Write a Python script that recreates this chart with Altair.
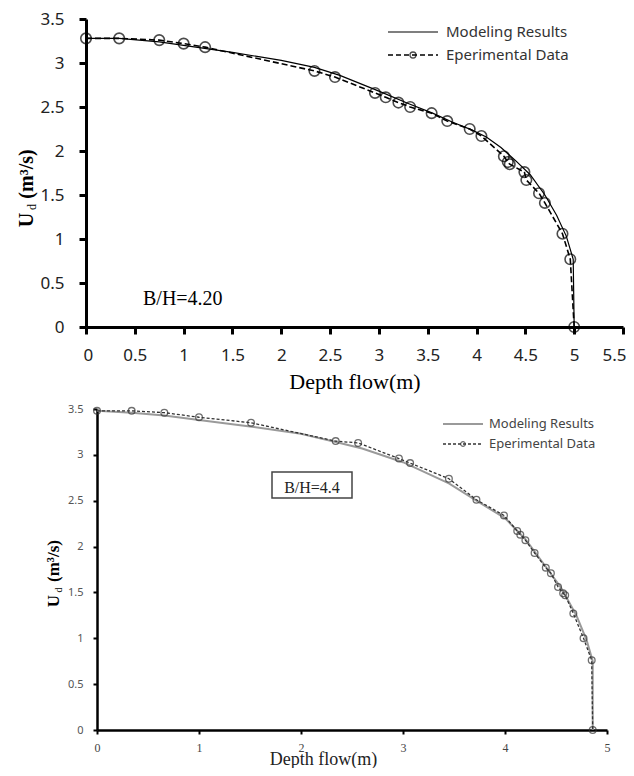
import altair as alt
import pandas as pd

# ---------------- data ----------------
# Top panel, B/H = 4.20
top_exp_x = [0.0, 0.34, 0.75, 1.0, 1.22, 2.34, 2.55, 2.96, 3.07, 3.2, 3.32, 3.54, 3.7,
             3.93, 4.05, 4.28, 4.32, 4.34, 4.49, 4.51, 4.64, 4.7, 4.88, 4.96, 5.0]
top_exp_y = [3.28, 3.28, 3.26, 3.22, 3.18, 2.91, 2.84, 2.66, 2.61, 2.55, 2.5, 2.43, 2.34,
             2.25, 2.17, 1.94, 1.875, 1.85, 1.76, 1.67, 1.52, 1.41, 1.06, 0.77, 0.0]
top_mod_x = [0.0, 0.34, 0.75, 1.0, 1.5, 2.0, 2.34, 2.6, 3.0, 3.3, 3.55, 3.75, 3.95, 4.1,
             4.25, 4.4, 4.55, 4.7, 4.82, 4.92, 4.99, 5.0]
top_mod_y = [3.28, 3.28, 3.24, 3.2, 3.12, 3.03, 2.95, 2.86, 2.68, 2.54, 2.43, 2.33, 2.24,
             2.16, 2.04, 1.89, 1.73, 1.50, 1.27, 1.03, 0.77, 0.0]
top_x_ticks = [0, 0.5, 1, 1.5, 2, 2.5, 3, 3.5, 4, 4.5, 5, 5.5]
top_y_ticks = [0, 0.5, 1, 1.5, 2, 2.5, 3, 3.5]

# Bottom panel, B/H = 4.4
bot_exp_x = [0.0, 0.34, 0.66, 1.0, 1.51, 2.34, 2.56, 2.96, 3.07, 3.45, 3.72, 3.99, 4.12,
             4.15, 4.2, 4.29, 4.4, 4.45, 4.52, 4.57, 4.59, 4.67, 4.77, 4.85, 4.86]
bot_exp_y = [3.48, 3.48, 3.46, 3.41, 3.35, 3.15, 3.13, 2.96, 2.91, 2.74, 2.51, 2.34, 2.17,
             2.13, 2.07, 1.93, 1.77, 1.71, 1.56, 1.49, 1.47, 1.27, 1.0, 0.76, 0.0]
bot_mod_x = [0.0, 0.34, 0.66, 1.0, 1.5, 2.0, 2.34, 2.6, 3.0, 3.45, 3.72, 4.0, 4.2, 4.4,
             4.55, 4.7, 4.8, 4.86, 4.86]
bot_mod_y = [3.48, 3.46, 3.43, 3.38, 3.31, 3.23, 3.14, 3.07, 2.92, 2.69, 2.5, 2.31, 2.08,
             1.78, 1.55, 1.25, 0.98, 0.75, 0.0]
bot_x_ticks = [0, 1, 2, 3, 4, 5]
bot_y_ticks = [0, 0.5, 1, 1.5, 2, 2.5, 3, 3.5]

legend_labels = ["Modeling Results", "Eperimental Data"]
x_title = "Depth flow(m)"

SERIF = "Liberation Serif"
SANS = "Noto Sans"
FMT = ".1~f"


def series_df(xs, ys):
    return pd.DataFrame({"x": xs, "y": ys, "i": list(range(len(xs)))})


def one():
    return pd.DataFrame({"a": [0]})


def txt(text, x, y, size, font, color="black", weight="normal", angle=0,
        align="left", baseline="alphabetic"):
    return alt.Chart(one()).mark_text(
        text=text, fontSize=size, font=font, color=color, fontWeight=weight,
        angle=angle, align=align, baseline=baseline
    ).encode(x=alt.value(x), y=alt.value(y))


def hrule(x1, x2, y, color, width, dash=None):
    kw = dict(color=color, strokeWidth=width)
    if dash:
        kw["strokeDash"] = dash
    return alt.Chart(one()).mark_rule(**kw).encode(
        x=alt.value(x1), x2=alt.value(x2), y=alt.value(y))


def dot(x, y, size, color, width):
    return alt.Chart(one()).mark_point(
        shape="circle", filled=False, size=size, color=color, strokeWidth=width
    ).encode(x=alt.value(x), y=alt.value(y))


# ---------------- top panel ----------------
TW, TH = 537, 308
tx = alt.X("x:Q", scale=alt.Scale(domain=[0, 5.5], nice=False),
           axis=alt.Axis(values=top_x_ticks, format=FMT, title=x_title, titleFont=SERIF,
                         titleFontSize=22, titleFontWeight="normal", titleColor="black",
                         titleY=61, titleBaseline="alphabetic",
                         labelFont=SANS, labelFontSize=17, labelColor="#222",
                         labelPadding=13, tickSize=7, tickWidth=3, tickColor="black",
                         domainColor="black", domainWidth=3, grid=False,
                         labelFlush=True, labelFlushOffset=3, labelOverlap=False))
ty = alt.Y("y:Q", scale=alt.Scale(domain=[0, 3.5], nice=False),
           axis=alt.Axis(values=top_y_ticks, format=FMT, title=None,
                         labelFont=SANS, labelFontSize=17, labelColor="#222",
                         labelPadding=15, tickSize=7, tickWidth=3, tickColor="black",
                         domainColor="black", domainWidth=3, grid=False,
                         labelFlush=False, labelOverlap=False))

top_mod = alt.Chart(series_df(top_mod_x, top_mod_y)).mark_line(
    color="black", strokeWidth=1.2).encode(x=tx, y=ty, order="i:Q")
top_exp_line = alt.Chart(series_df(top_exp_x, top_exp_y)).mark_line(
    color="black", strokeWidth=1.6, strokeDash=[6, 3]).encode(x=tx, y=ty, order="i:Q")
top_exp_pts = alt.Chart(series_df(top_exp_x, top_exp_y)).mark_point(
    shape="circle", filled=False, size=110, color="black", strokeWidth=1.6
).encode(x=tx, y=ty)

top_anchor = alt.Chart(one()).mark_rect(fill="white").encode(
    x=alt.value(-78), x2=alt.value(-77), y=alt.value(-11), y2=alt.value(-10))

top = alt.layer(
    top_anchor,
    top_mod, top_exp_line, top_exp_pts,
    # y axis title U_d (m^3/s)
    txt("U", -53.5, 201, 20, SERIF, weight="bold", angle=270, align="center"),
    txt("d", -50.5, 188, 12, SERIF, angle=270, align="center"),
    txt("(m³/s)", -53.5, 155, 20, SERIF, weight="bold", angle=270, align="center"),
    # annotation
    txt("B/H=4.20", 57, 286, 20, SERIF),
    # legend
    hrule(302, 352, 13, "black", 1.2),
    hrule(302, 352, 36, "black", 1.6, [5, 3]),
    dot(327, 36, 36, "black", 1.3),
    txt(legend_labels[0], 360, 13, 15, SANS, color="#333", baseline="middle"),
    txt(legend_labels[1], 360, 36, 15, SANS, color="#333", baseline="middle"),
).properties(width=TW, height=TH)

# ---------------- bottom panel ----------------
BW, BH = 510, 321
bx = alt.X("x:Q", scale=alt.Scale(domain=[0, 5], nice=False),
           axis=alt.Axis(values=bot_x_ticks, format=FMT, title=x_title, titleFont=SERIF,
                         titleFontSize=18, titleFontWeight="normal", titleColor="#222",
                         titleX=226, titleY=34, titleAlign="center",
                         titleBaseline="alphabetic",
                         labelFont=SERIF, labelFontSize=12, labelColor="#444",
                         labelPadding=8, tickSize=4, tickWidth=2, tickColor="black",
                         domainColor="black", domainWidth=2.5, grid=False,
                         labelFlush=False, labelOverlap=False))
by = alt.Y("y:Q", scale=alt.Scale(domain=[0, 3.5], nice=False),
           axis=alt.Axis(values=bot_y_ticks, format=FMT, title=None,
                         labelFont=SANS, labelFontSize=11, labelColor="#555",
                         labelPadding=10, tickSize=4, tickWidth=2, tickColor="black",
                         domainColor="black", domainWidth=2.5, grid=False,
                         labelFlush=False, labelOverlap=False))

bot_mod = alt.Chart(series_df(bot_mod_x, bot_mod_y)).mark_line(
    color="#9a9a9a", strokeWidth=2).encode(x=bx, y=by, order="i:Q")
bot_exp_line = alt.Chart(series_df(bot_exp_x, bot_exp_y)).mark_line(
    color="#333", strokeWidth=1.3, strokeDash=[3, 2]).encode(x=bx, y=by, order="i:Q")
bot_exp_pts = alt.Chart(series_df(bot_exp_x, bot_exp_y)).mark_point(
    shape="circle", filled=False, size=45, color="#333", strokeWidth=1.3
).encode(x=bx, y=by)

box = alt.Chart(one()).mark_rect(fill="white", stroke="#444", strokeWidth=1.5).encode(
    x=alt.value(175), x2=alt.value(255), y=alt.value(63), y2=alt.value(89))

bottom = alt.layer(
    bot_mod, bot_exp_line, bot_exp_pts,
    txt("U", -38, 192, 17, SERIF, weight="bold", angle=270, align="center"),
    txt("d", -35.5, 181, 10, SERIF, angle=270, align="center"),
    txt("(m³/s)", -38, 152, 17, SERIF, weight="bold", angle=270, align="center"),
    box,
    txt("B/H=4.4", 215, 84, 16, SERIF, color="#222", align="center"),
    hrule(346, 386, 15, "#9a9a9a", 2),
    hrule(346, 386, 35, "#333", 1.3, [3, 2]),
    dot(366, 35, 22, "#333", 1.2),
    txt(legend_labels[0], 392, 15, 13, SANS, color="#444", baseline="middle"),
    txt(legend_labels[1], 392, 35, 13, SANS, color="#444", baseline="middle"),
).properties(width=BW, height=BH)

spacer = alt.Chart(one()).mark_rect(opacity=0).encode(
    x=alt.value(0), x2=alt.value(1), y=alt.value(0), y2=alt.value(1)
).properties(width=11, height=10)

chart = alt.vconcat(
    top,
    alt.hconcat(spacer, bottom, spacing=0, bounds="flush"),
    spacing=82, bounds="flush",
).properties(
    padding={"left": 0, "top": 0, "right": 0, "bottom": 0},
    background="white",
).configure_view(stroke=None)

chart.save("out.html", embed_options={"renderer": "svg", "actions": False})
